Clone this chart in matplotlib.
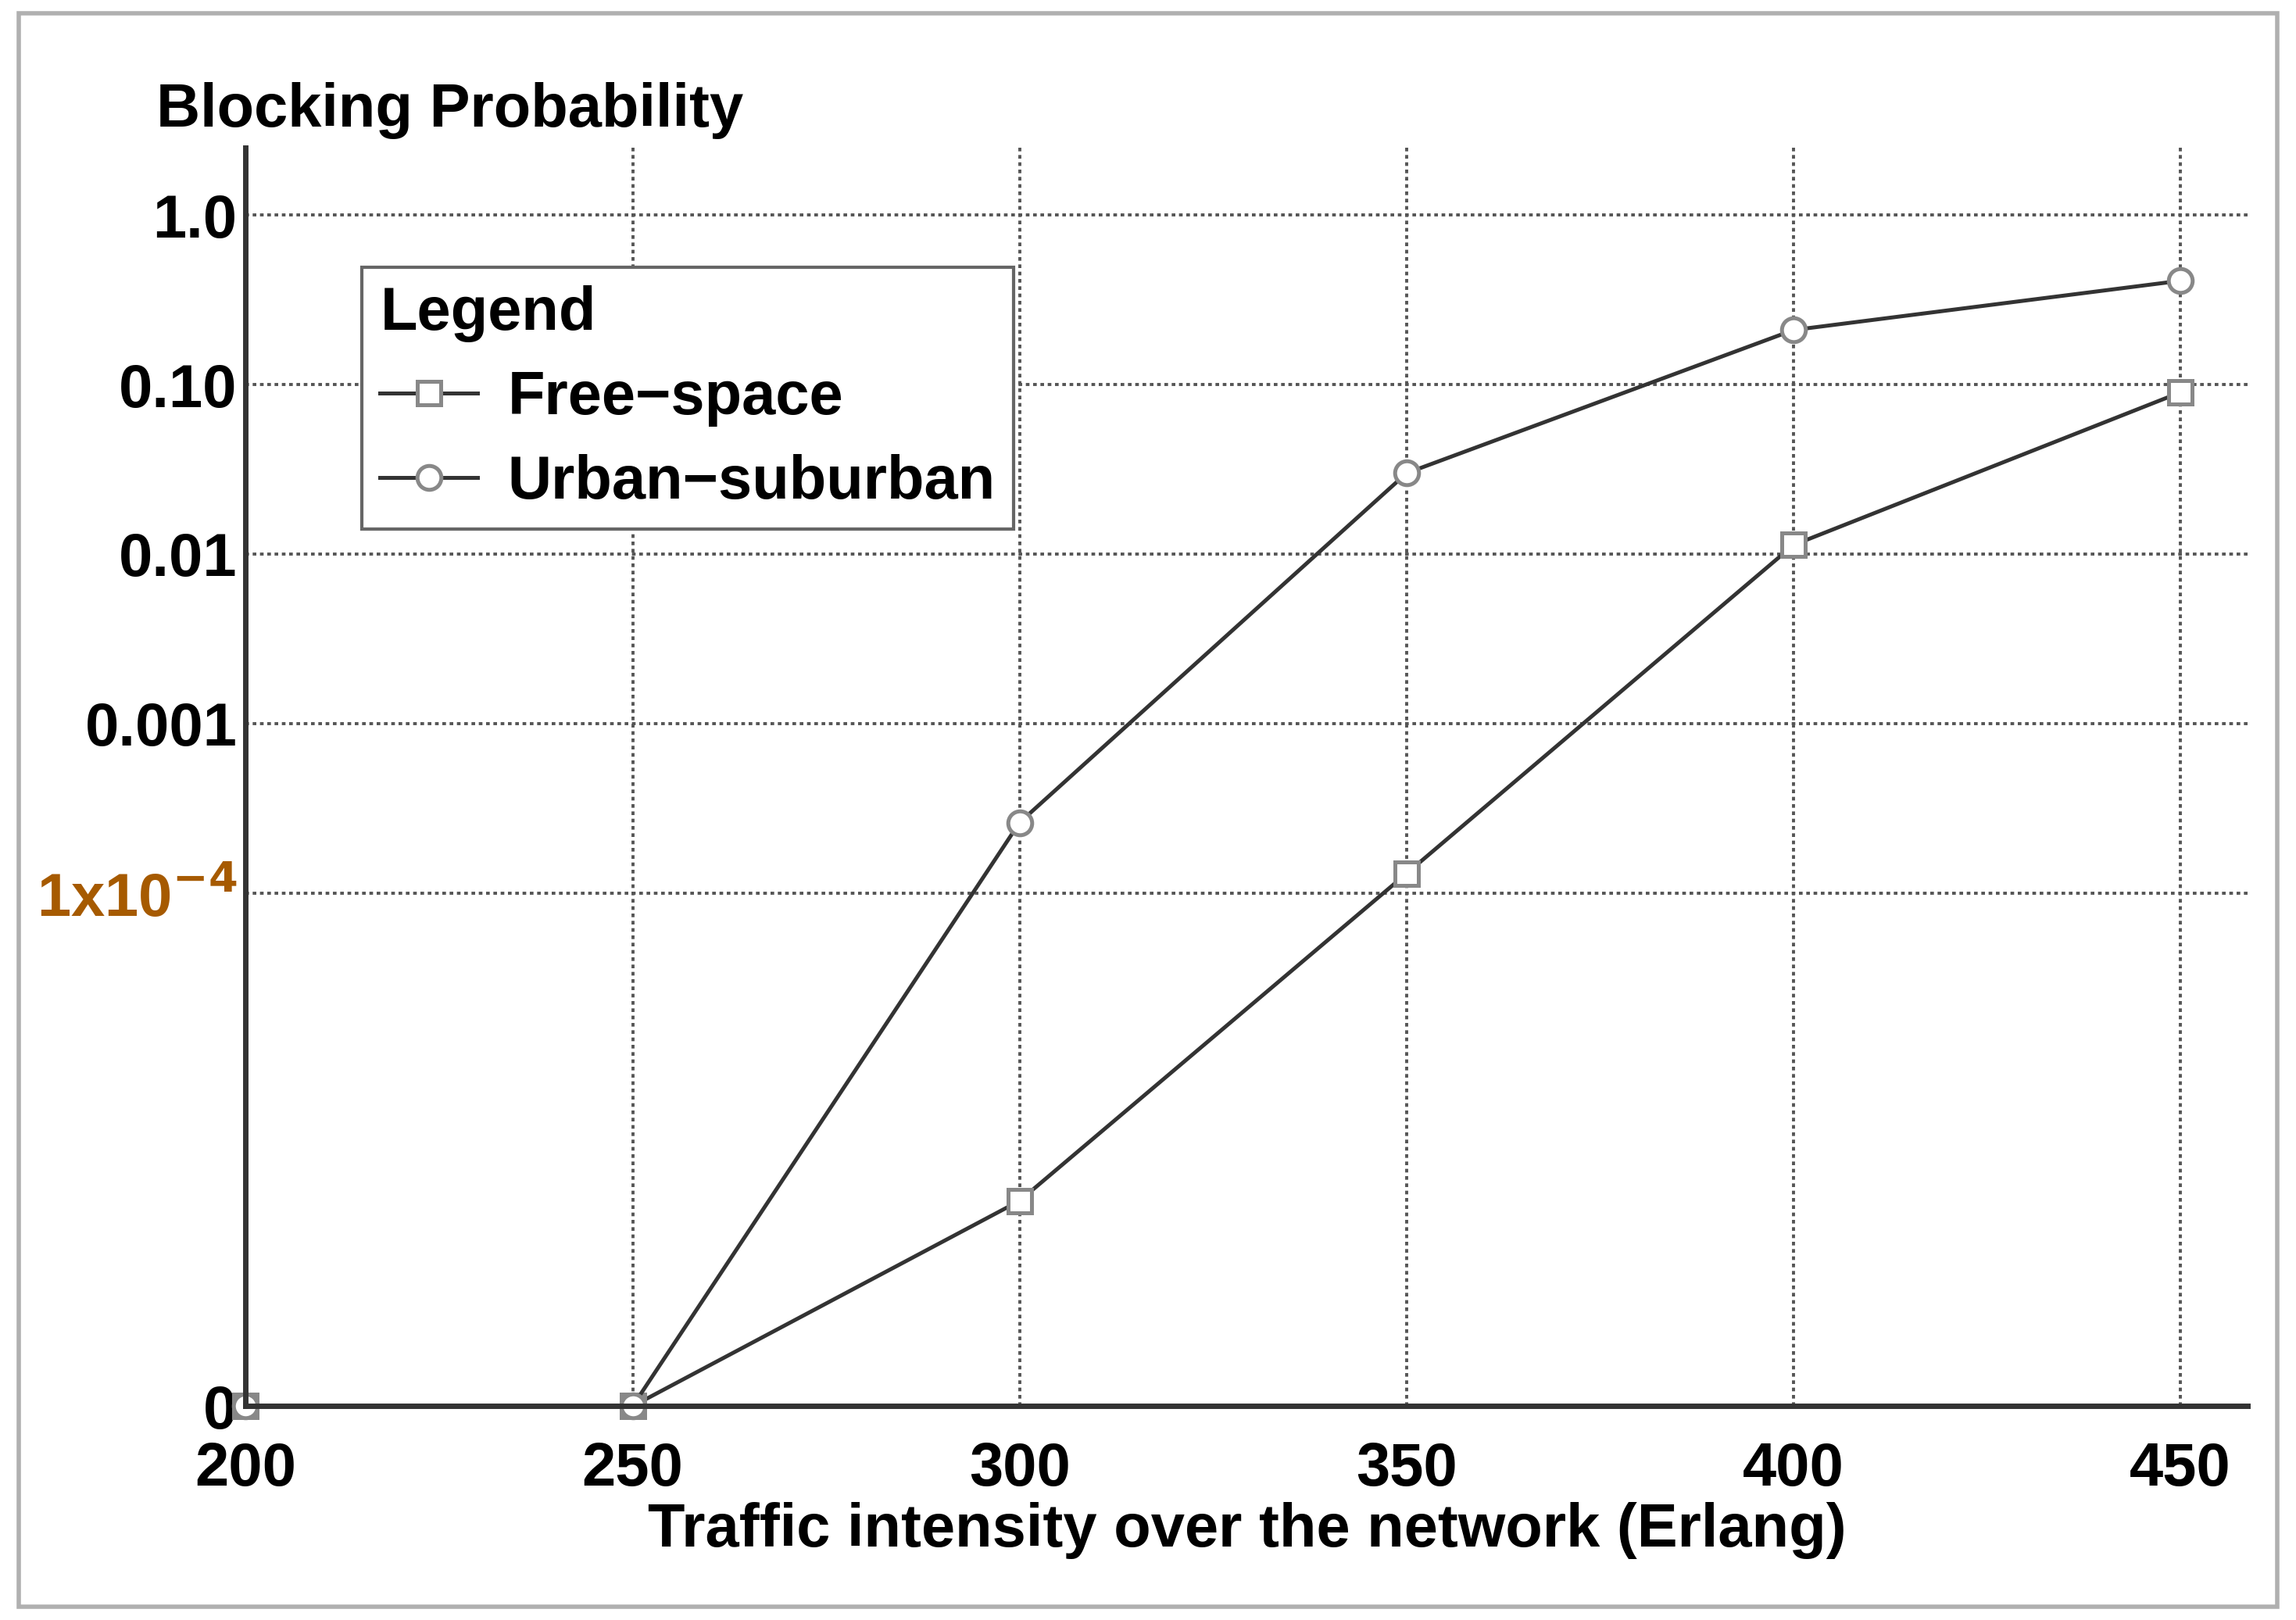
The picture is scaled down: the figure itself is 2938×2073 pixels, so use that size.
import numpy as np
import matplotlib.pyplot as plt
from matplotlib.patches import Rectangle

plt.rcParams['font.family'] = ['Liberation Sans', 'DejaVu Sans']
plt.rcParams['font.weight'] = 'bold'

traffic = [200, 250, 300, 350, 400, 450]
free_space = [0, 0, 4e-5, 1.3e-4, 0.0113, 0.09]
urban = [0, 0, 2.6e-4, 0.03, 0.21, 0.41]
ytick_vals = [0, 1e-4, 1e-3, 1e-2, 0.1, 1.0]
ytick_labels = ['0', r'1x10$^{-4}$', '0.001', '0.01', '0.10', '1.0']

K = 3.03  # scale units between 0 and 1e-4


def fwd(y):
    y = np.asarray(y, dtype=float)
    lin = y / 1e-4 * K
    lg = K + np.log10(np.maximum(y, 1e-12) / 1e-4)
    return np.where(y < 1e-4, lin, lg)


def inv(u):
    u = np.asarray(u, dtype=float)
    return np.where(u < K, u / K * 1e-4, 1e-4 * 10 ** (np.minimum(u, 20) - K))


fig = plt.figure(figsize=(14.69, 10.365), dpi=200)
fig.patches.append(Rectangle((0.008, 0.008), 0.984, 0.984, transform=fig.transFigure,
                             fill=False, edgecolor='#b0b0b0', linewidth=2))
ax = fig.add_axes([0.107, 0.132, 0.872, 0.777])
ax.set_yscale('function', functions=(fwd, inv))

l1, = ax.plot(traffic, free_space, color='#333333', lw=1.8, marker='s', ms=11,
              mfc='white', mec='#888888', mew=1.8, label='Free\u2212space', clip_on=False)
l2, = ax.plot(traffic, urban, color='#333333', lw=1.8, marker='o', ms=11,
              mfc='white', mec='#888888', mew=1.8, label='Urban\u2212suburban', clip_on=False)

ax.set_xlim(200, 458.7)
ax.set_ylim(0, float(inv(7.43)))
ax.set_xticks(traffic)
ax.set_yticks(ytick_vals)
ax.set_yticklabels(ytick_labels)
ax.yaxis.set_minor_locator(plt.NullLocator())
ax.get_yticklabels()[1].set_color('#a65a00')
ax.tick_params(labelsize=28, length=0)
ax.tick_params(axis='x', pad=16)
ax.tick_params(axis='y', pad=4)
for s in ['top', 'right']:
    ax.spines[s].set_visible(False)
for s in ['left', 'bottom']:
    ax.spines[s].set_linewidth(2.5)
    ax.spines[s].set_color('#333333')
ax.grid(True, color='#555555', linestyle=(0, (1.2, 1.2)), linewidth=1.4)

ax.set_xlabel('Traffic intensity over the network (Erlang)', fontsize=28,
              fontweight='bold', labelpad=2)
fig.text(0.068, 0.922, 'Blocking Probability', fontsize=28, fontweight='bold')

leg = ax.legend(loc='upper left', bbox_to_anchor=(0.058, 0.905), title='Legend',
                fontsize=28, title_fontsize=28, fancybox=False, framealpha=1,
                edgecolor='#666666', borderpad=0.3, handlelength=1.6,
                handletextpad=0.5, labelspacing=0.45, borderaxespad=0,
                alignment='left')
leg.get_frame().set_linewidth(1.5)

fig.savefig('out.png', dpi=200)
